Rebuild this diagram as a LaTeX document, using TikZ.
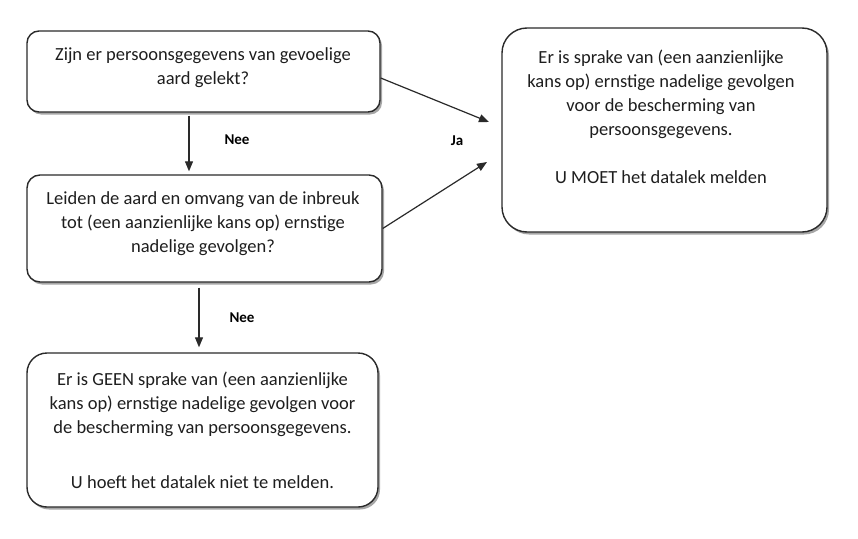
\documentclass[tikz,border=0pt]{standalone}
\usepackage{fontspec}
\setmainfont{Carlito}
\usetikzlibrary{arrows.meta,shadows}
\definecolor{linec}{HTML}{2A2A2A}
\definecolor{txtc}{HTML}{1E1E1E}
\begin{document}
\begin{tikzpicture}[x=1pt,y=-1pt,
  box/.style={draw=linec, line width=1.4pt, fill=white, inner sep=0pt, rounded corners=#1,
    drop shadow={shadow xshift=2pt, shadow yshift=-2.5pt, opacity=0.35, fill=black}},
  txt/.style={text=txtc, align=center, inner sep=0pt, font=\fontsize{18.5}{24}\selectfont},
  lab/.style={text=black, inner sep=0pt, font=\fontsize{15}{17}\selectfont\bfseries},
  arr/.style={draw=linec, line width=1.2pt, -{Triangle[length=10pt,width=8pt]}}]
\useasboundingbox[fill=white] (0,0) rectangle (858,538);
% boxes
\node[box=12pt, minimum width=353pt, minimum height=81pt] (b1) at (203.5,71.5) {};
\node[box=13pt, minimum width=355pt, minimum height=107pt] (b2) at (204.5,228.5) {};
\node[box=20pt, minimum width=351pt, minimum height=154pt] (b3) at (202.5,430) {};
\node[box=25pt, minimum width=325pt, minimum height=204pt] (r) at (664.5,130) {};
% texts
\node[txt] (t1) at (203,68) {Zijn er persoonsgegevens van gevoelige\\aard gelekt?};
\node[txt] (t2) at (203,224) {Leiden de aard en omvang van de inbreuk\\tot (een aanzienlijke kans op) ernstige\\nadelige gevolgen?};
\node[txt] (t3) at (202.5,430) {Er is GEEN sprake van (een aanzienlijke\\kans op) ernstige nadelige gevolgen voor\\de bescherming van persoonsgegevens.\\[31pt]U hoeft het datalek niet te melden.};
\node[txt] (t4) at (661,117) {Er is sprake van (een aanzienlijke\\kans op) ernstige nadelige gevolgen\\voor de bescherming van\\persoonsgegevens.\\[24pt]U MOET het datalek melden};
% connectors
\coordinate (c1) at (189,0);
\coordinate (c2) at (199,0);
\coordinate (s1) at (0,78);
\coordinate (ja1) at (489,122);
\coordinate (ja2) at (487,162);
\draw[arr, shorten <=3pt, shorten >=3pt] (b1.south -| c1) -- (b2.north -| c1);
\draw[arr, shorten <=5pt, shorten >=5pt] (b2.south -| c2) -- (b3.north -| c2);
\draw[arr] (b1.east |- s1) -- (ja1);
\draw[arr] (b2.east) -- (ja2);
% labels
\node[lab] (n1) at (237,140) {Nee};
\node[lab] (n2) at (242,318) {Nee};
\node[lab] (ja) at (457,141) {Ja};
\end{tikzpicture}
\end{document}
